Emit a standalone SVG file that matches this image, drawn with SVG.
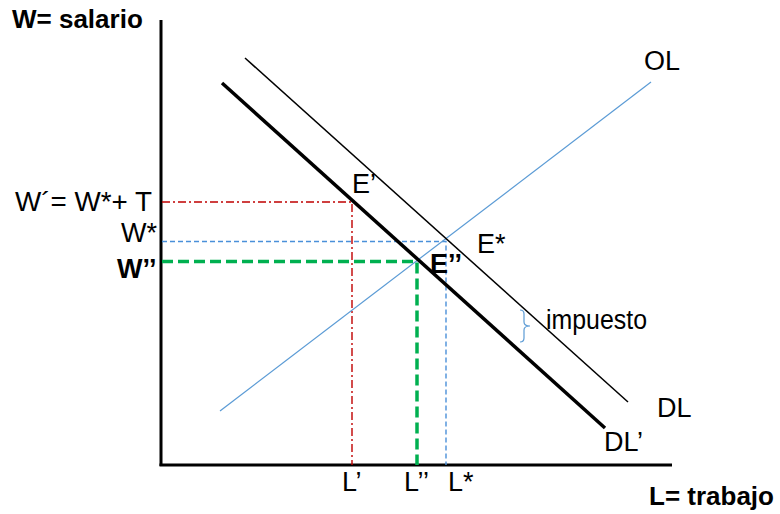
<svg xmlns="http://www.w3.org/2000/svg" width="780" height="514" viewBox="0 0 780 514">
<style>
text{font-family:"Liberation Sans",Arial,sans-serif;fill:#000}
.lbl{font-size:27px}
.b{font-weight:bold}
.axis{stroke:#000;stroke-width:3;fill:none}
.red{stroke:#C00000;stroke-width:1.4;stroke-dasharray:8 3 2 3;fill:none}
.blue{stroke:#4A90D9;stroke-width:1.4;stroke-dasharray:5 3;fill:none}
.green{stroke:#00B050;stroke-width:3.5;stroke-dasharray:11 5;fill:none}
</style>
<rect width="780" height="514" fill="#fff"/>
<g id="axes">
<line class="axis" x1="161" y1="20" x2="161" y2="466"/>
<line class="axis" x1="159.5" y1="465" x2="672" y2="465"/>
<text x="12" y="28" class="b" font-size="26">W= salario</text>
<text x="649" y="505" class="b" font-size="26">L= trabajo</text>
</g>
<g id="connectors">
<polyline class="red" points="162,202 352,202 352,465"/>
<polyline class="blue" points="162,241.5 446,241.5 446,465"/>
<polyline class="green" points="162,261.5 417,261.5 417,465"/>
</g>
<g id="OL">
<line x1="220" y1="411" x2="651" y2="82" stroke="#5B9BD5" stroke-width="1.2"/>
<text x="644" y="70" class="lbl">OL</text>
</g>
<g id="DL">
<line x1="245" y1="58" x2="628" y2="402" stroke="#000" stroke-width="1.5"/>
<text x="657" y="417" class="lbl">DL</text>
</g>
<g id="DLp">
<line x1="222" y1="83" x2="605" y2="428" stroke="#000" stroke-width="3.5"/>
<text x="604" y="451" class="lbl">DL’</text>
</g>
<g id="impuesto">
<path d="M520,310 Q524,310 524,314 L524,322 Q524,326 530,326 Q524,326 524,330 L524,338 Q524,342 520,342" fill="none" stroke="#5B9BD5" stroke-width="1.2"/>
<text x="546" y="329" class="lbl" textLength="101" lengthAdjust="spacingAndGlyphs">impuesto</text>
</g>
<g id="labels">
<text x="15" y="211" class="lbl" textLength="137" lengthAdjust="spacingAndGlyphs">W´= W*+ T</text>
<text x="121" y="242" class="lbl">W*</text>
<text x="117" y="278" class="lbl b">W’’</text>
<text x="352" y="193" class="lbl">E’</text>
<text x="477" y="253" class="lbl">E*</text>
<text x="430" y="273" class="lbl b">E’’</text>
<text x="342" y="491" class="lbl">L’</text>
<text x="404" y="491" class="lbl">L’’</text>
<text x="448" y="491" class="lbl">L*</text>
</g>
</svg>
